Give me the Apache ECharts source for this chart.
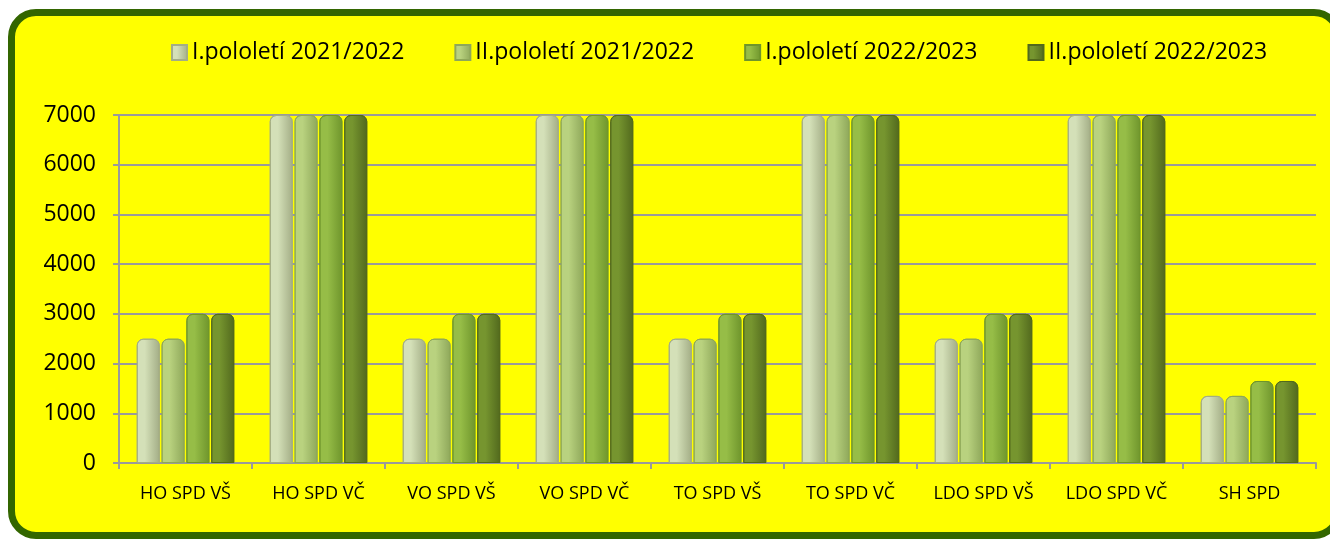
<!DOCTYPE html>
<html>
<head>
<meta charset="utf-8">
<script src="https://cdn.jsdelivr.net/npm/echarts@6/dist/echarts.min.js"></script>
<style>
  html, body { margin: 0; padding: 0; background: #fff; }
  #frame {
    position: absolute; left: 8px; top: 9px; width: 1320px; height: 516px;
    background: #ffff00; border: 7px solid #336600; border-radius: 28px;
  }
  #main { position: absolute; left: 0; top: 0; width: 1330px; height: 541px; }
</style>
</head>
<body>
<div id="frame"></div>
<div id="main"></div>
<script>
// kategorie a hodnoty
var categories = ['HO SPD VŠ', 'HO SPD VČ', 'VO SPD VŠ', 'VO SPD VČ', 'TO SPD VŠ', 'TO SPD VČ', 'LDO SPD VŠ', 'LDO SPD VČ', 'SH SPD'];
var seriesNames = ['I.pololetí 2021/2022', 'II.pololetí 2021/2022', 'I.pololetí 2022/2023', 'II.pololetí 2022/2023'];
var pol1_2122 = [2500, 7000, 2500, 7000, 2500, 7000, 2500, 7000, 1350];
var pol2_2122 = [2500, 7000, 2500, 7000, 2500, 7000, 2500, 7000, 1350];
var pol1_2223 = [3000, 7000, 3000, 7000, 3000, 7000, 3000, 7000, 1650];
var pol2_2223 = [3000, 7000, 3000, 7000, 3000, 7000, 3000, 7000, 1650];
var yTicks = [0, 1000, 2000, 3000, 4000, 5000, 6000, 7000];

var values = [pol1_2122, pol2_2122, pol1_2223, pol2_2223];
// barvy sloupců (světlá a tmavá strana)
var shades = [
  ['#d4e0b8', '#a3ad86'],
  ['#b9d27f', '#8ea75a'],
  ['#96bd47', '#6f952c'],
  ['#76952f', '#52691d']
];

var myChart = echarts.init(document.getElementById('main'));

function grad(c) {
  return new echarts.graphic.LinearGradient(0, 0, 1, 0, [
    { offset: 0, color: c[0] },
    { offset: 0.35, color: c[0] },
    { offset: 1, color: c[1] }
  ]);
}

myChart.setOption({
  backgroundColor: 'transparent',
  textStyle: { fontFamily: 'Open Sans' },
  legend: {
    top: 36,
    left: 166,
    itemGap: 50,
    itemWidth: 15,
    itemHeight: 15,
    icon: 'rect',
    textStyle: { fontSize: 23, color: '#000', fontFamily: 'Open Sans' },
    data: seriesNames
  },
  grid: { left: 119, right: 14, top: 115, bottom: 78 },
  xAxis: {
    type: 'category',
    data: categories,
    axisLine: { lineStyle: { color: '#9a9a9a', width: 2 } },
    axisTick: { show: true, length: 6, lineStyle: { color: '#9a9a9a', width: 2 } },
    axisLabel: { fontSize: 18, color: '#000', margin: 22, interval: 0 }
  },
  yAxis: {
    type: 'value',
    min: yTicks[0],
    max: yTicks[yTicks.length - 1],
    interval: 1000,
    axisLine: { show: true, lineStyle: { color: '#9a9a9a', width: 2 } },
    axisTick: { show: true, length: 6, lineStyle: { color: '#9a9a9a', width: 2 } },
    axisLabel: { fontSize: 23, color: '#000', margin: 23, formatter: function (v) { return String(v); } },
    splitLine: { lineStyle: { color: '#9a9a9a', width: 2 } }
  },
  series: values.map(function (d, i) {
    return {
      name: seriesNames[i],
      type: 'bar',
      data: d,
      barWidth: 23,
      barGap: '8%',
      itemStyle: {
        color: grad(shades[i]),
        borderRadius: [6, 6, 0, 0],
        borderColor: shades[i][1],
        borderWidth: 1
      }
    };
  })
});
</script>
</body>
</html>
